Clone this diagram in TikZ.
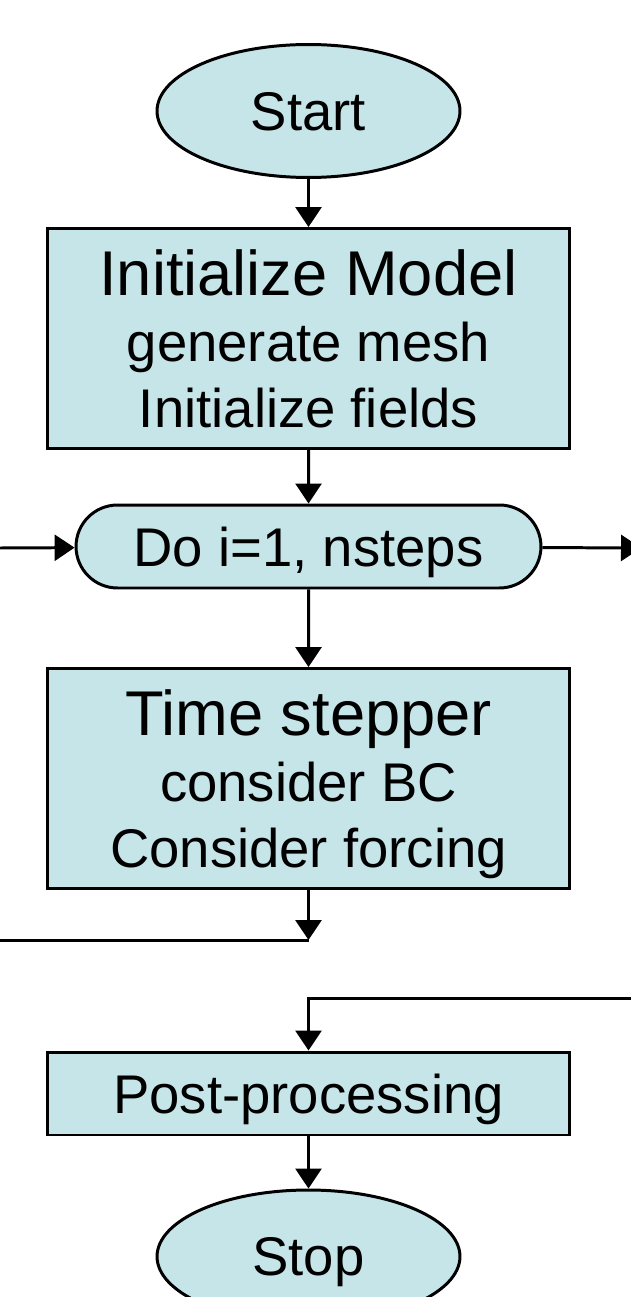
\documentclass[tikz,border=0pt]{standalone}
\usepackage{fontspec}
\setmainfont{Liberation Sans}
\usetikzlibrary{shapes.geometric,shapes.misc,arrows.meta}
\definecolor{boxblue}{RGB}{198,229,233}
\newcommand{\titlefont}{\fontsize{36}{37.5}\selectfont}
\newcommand{\itemfont}{\fontsize{31}{37.5}\selectfont}
\begin{document}
\begin{tikzpicture}[x=0.02cm, y=-0.02cm, line width=1.7pt,
	>={Triangle[length=0.4cm,width=0.52cm]},
	ovalbox/.style={ellipse, draw, fill=boxblue, minimum width=6.06cm, minimum height=2.66cm, inner sep=0pt, text depth=0pt, font=\itemfont},
	loopbox/.style={rounded rectangle, draw, fill=boxblue, minimum width=9.3cm, minimum height=1.66cm, inner sep=0pt, text depth=0pt, font=\itemfont},
	taskbox/.style={rectangle, draw, fill=boxblue, minimum width=10.46cm, inner sep=0pt, text depth=0pt, align=center, font=\itemfont}]
				\useasboundingbox (0,0) rectangle (631,1297);
				\path
				coordinate (loopin) at (0,548)
				coordinate (loopout) at (641,548)
				coordinate (back) at (308.5,940)
				coordinate (backend) at (0,940)
				coordinate (exitin) at (631,998)
				;
				\node[ovalbox] (start) at (308.5,111) {Start};
				\node[taskbox, minimum height=4.4cm] (init) at (308.5,338.5) {{\titlefont Initialize Model}\\ generate mesh\\ Initialize fields};
				\node[loopbox] (loop) at (308.5,546.5) {Do i=1, nsteps};
				\node[taskbox, minimum height=4.4cm] (step) at (308.5,778.5) {{\titlefont Time stepper}\\ consider BC\\ Consider forcing};
				\node[taskbox, minimum height=1.66cm] (post) at (308.5,1093.5) {Post-processing};
				\node[ovalbox] (stop) at (308.5,1256.5) {Stop};
				\draw[->] (start) -- (init);
				\draw[->] (init) -- (loop);
				\draw[->] (loopin) -- (loop);
				\draw[->] (loop) -- (loopout);
				\draw[->] (loop) -- (step);
				\draw[->] (step) -- (back);
				\draw (back) -- (backend);
				\draw[->] (exitin) -| (post);
				\draw[->] (post) -- (stop);
		\end{tikzpicture}
\end{document}
